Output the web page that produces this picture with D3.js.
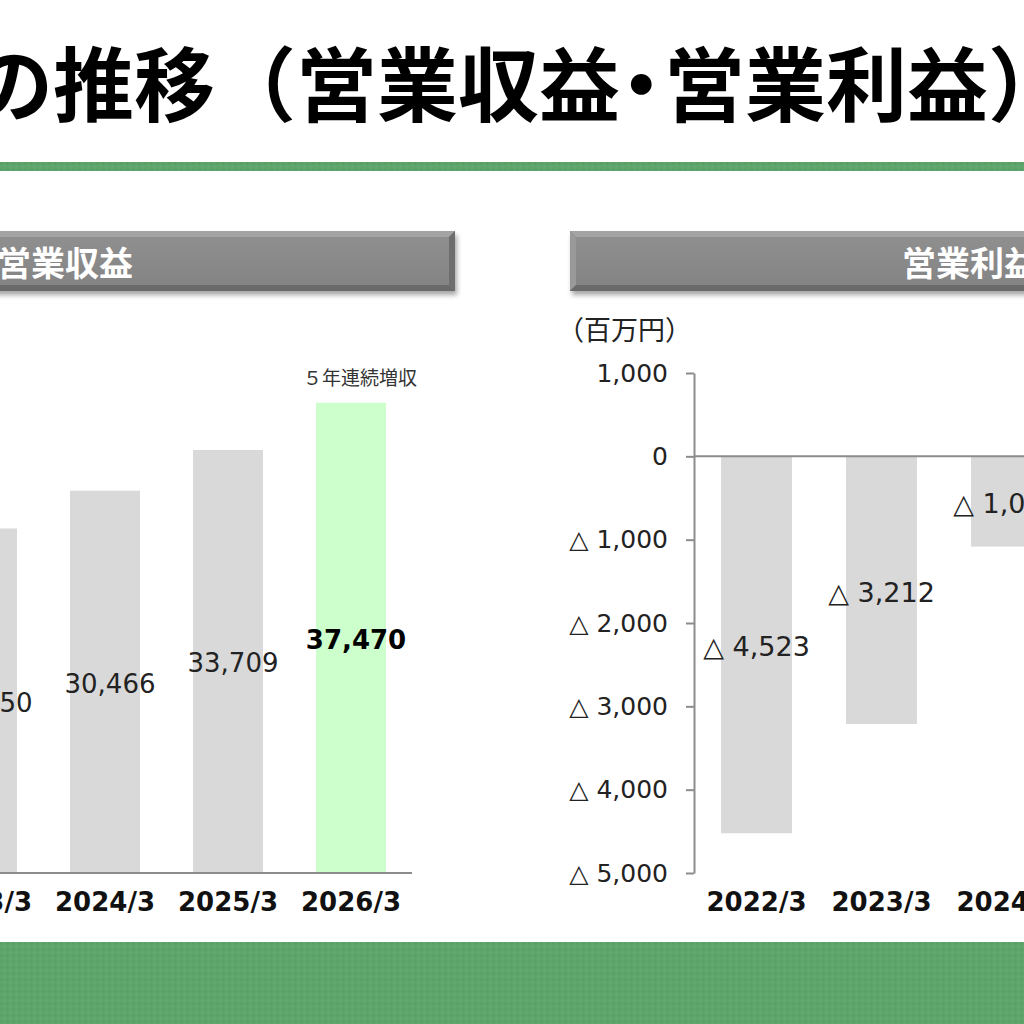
<!DOCTYPE html>
<html>
<head>
<meta charset="utf-8">
<title>営業収益・営業利益の推移</title>
<script src="https://d3js.org/d3.v7.min.js"></script>
<style>
  html, body { margin: 0; padding: 0; background: #fff; }
  svg { display: block; }
  .halt { font-feature-settings: "halt"; }
</style>
</head>
<body>
<svg id="mainsvg" width="1024" height="1024"></svg>
<script>
// ---------- data ----------
const revenueYears = ["2023/3", "2024/3", "2025/3", "2026/3"];
const revenueValues = [27450, 30466, 33709, 37470];   // 百万円 (first bar partly off the slide)
const revenueHighlight = "2026/3";
const revenueNote = "５年連続増収";

const profitYears = ["2022/3", "2023/3", "2024/3"];
const profitValues = [-4523, -3212, -1083];           // 百万円 (last label cut off)
const profitTicks = [1000, 0, -1000, -2000, -3000, -4000, -5000];

const titleParts = ["の推移（営業収益", "・", "営業利益）"];
const leftHeader = "営業収益";
const rightHeader = "営業利益";
const unitLabel = "（百万円）";

// ---------- setup ----------
const svg = d3.select("#mainsvg");
const jp = "'Noto Sans CJK JP', 'Noto Sans', sans-serif";
const num = "'DejaVu Sans', Verdana, sans-serif";
const barGray = "#d9d9d9";
const axisGray = "#8c8c8c";

const defs = svg.append("defs");
// dotted green texture
const pat = defs.append("pattern").attr("id", "greenTex")
  .attr("width", 6).attr("height", 6).attr("patternUnits", "userSpaceOnUse");
pat.append("rect").attr("width", 6).attr("height", 6).attr("fill", "#5ea56c");
pat.append("circle").attr("cx", 1.5).attr("cy", 1.5).attr("r", 1).attr("fill", "#55995f");
pat.append("circle").attr("cx", 4.5).attr("cy", 4.5).attr("r", 1).attr("fill", "#66ad74");

const shadow = defs.append("filter").attr("id", "shadow")
  .attr("x", "-10%").attr("y", "-30%").attr("width", "120%").attr("height", "170%");
shadow.append("feGaussianBlur").attr("stdDeviation", 2.5);

const faceGrad = defs.append("linearGradient").attr("id", "faceGrad")
  .attr("x1", 0).attr("y1", 0).attr("x2", 0).attr("y2", 1);
faceGrad.append("stop").attr("offset", "0%").attr("stop-color", "#8f8f8f");
faceGrad.append("stop").attr("offset", "100%").attr("stop-color", "#848484");

// ---------- title and bands ----------
const title = svg.append("text")
  .attr("y", 115)
  .attr("font-family", jp).attr("font-weight", 700).attr("font-size", 81)
  .attr("fill", "#000");
title.append("tspan").attr("x", -28).text(titleParts[0]);
title.append("tspan").attr("class", "halt").attr("x", 621).text(titleParts[1]);
title.append("tspan").attr("x", 664).text(titleParts[2]);

svg.append("rect").attr("x", 0).attr("y", 162).attr("width", 1024).attr("height", 9)
  .attr("fill", "url(#greenTex)");
svg.append("rect").attr("x", 0).attr("y", 942).attr("width", 1024).attr("height", 82)
  .attr("fill", "url(#greenTex)");

// ---------- section header bars ----------
function headerBar(x0, x1, label, tx) {
  const y0 = 231, y1 = 291, b = 6;
  const g = svg.append("g");
  g.append("rect").attr("x", x0 + 2).attr("y", y0 + 4).attr("width", x1 - x0).attr("height", y1 - y0)
    .attr("fill", "#000").attr("opacity", 0.35).attr("filter", "url(#shadow)");
  g.append("rect").attr("x", x0).attr("y", y0).attr("width", x1 - x0).attr("height", y1 - y0)
    .attr("fill", "#7c7c7c");
  // top bevel
  g.append("polygon").attr("points", `${x0},${y0} ${x1},${y0} ${x1 - b},${y0 + b} ${x0 + b},${y0 + b}`)
    .attr("fill", "#a4a4a4");
  // left bevel
  g.append("polygon").attr("points", `${x0},${y0} ${x0 + b},${y0 + b} ${x0 + b},${y1 - b} ${x0},${y1}`)
    .attr("fill", "#999");
  // right bevel
  g.append("polygon").attr("points", `${x1},${y0} ${x1},${y1} ${x1 - b},${y1 - b} ${x1 - b},${y0 + b}`)
    .attr("fill", "#6e6e6e");
  // bottom bevel
  g.append("polygon").attr("points", `${x0},${y1} ${x0 + b},${y1 - b} ${x1 - b},${y1 - b} ${x1},${y1}`)
    .attr("fill", "#6a6a6a");
  g.append("rect").attr("x", x0 + b).attr("y", y0 + b).attr("width", x1 - x0 - 2 * b).attr("height", y1 - y0 - 2 * b)
    .attr("fill", "url(#faceGrad)");
  g.append("text").attr("x", tx).attr("y", 276)
    .attr("font-family", jp).attr("font-weight", 700).attr("font-size", 34)
    .attr("fill", "#fff").text(label);
}
headerBar(-330, 455, leftHeader, -3);
headerBar(570, 1350, rightHeader, 902);

// ---------- left chart: 営業収益 ----------
const baseY = 873;
const xL = d3.scaleBand().domain(revenueYears).range([-79.5, 412.5])
  .paddingInner(0.431).paddingOuter(0.2155);
const yL = d3.scaleLinear().domain([0, 40000]).range([baseY, 371]);
const fmt = d3.format(",");

const left = svg.append("g");
left.selectAll("rect.bar").data(revenueYears).join("rect")
  .attr("class", "bar")
  .attr("x", d => xL(d))
  .attr("width", xL.bandwidth())
  .attr("y", (d, i) => yL(revenueValues[i]))
  .attr("height", (d, i) => yL(0) - yL(revenueValues[i]))
  .attr("fill", d => d === revenueHighlight ? "#ccffcc" : barGray);

left.selectAll("text.val").data(revenueYears).join("text")
  .attr("class", "val")
  .attr("x", d => xL(d) + xL.bandwidth() / 2 + 5)
  .attr("y", (d, i) => (yL(0) + yL(revenueValues[i])) / 2)
  .attr("dy", "0.42em")
  .attr("text-anchor", "middle")
  .attr("font-family", num).attr("font-size", 26)
  .attr("font-weight", d => d === revenueHighlight ? 700 : 400)
  .attr("fill", d => d === revenueHighlight ? "#000" : "#222")
  .text((d, i) => fmt(revenueValues[i]));

left.append("text")
  .attr("x", xL(revenueHighlight) + xL.bandwidth() / 2 + 9)
  .attr("y", yL(revenueValues[revenueValues.length - 1]) - 18)
  .attr("text-anchor", "middle")
  .attr("font-family", jp).attr("font-size", 19).attr("fill", "#333")
  .text(revenueNote);

const xAxisL = left.append("g").attr("transform", `translate(0,${baseY})`)
  .call(d3.axisBottom(xL).tickSize(0).tickPadding(20));
xAxisL.select(".domain").attr("stroke", axisGray).attr("stroke-width", 2)
  .attr("d", "M-100,0H412");
xAxisL.selectAll("text").attr("font-family", num).attr("font-weight", 700)
  .attr("font-size", 26).attr("fill", "#111");

// ---------- right chart: 営業利益 ----------
const axisX = 694;
const xR = d3.scaleBand().domain(profitYears).range([axisX, axisX + 375])
  .paddingInner(0.432).paddingOuter(0.216);
const yR = d3.scaleLinear().domain([-5000, 1000]).range([baseY, 373]);
const tickFmt = v => v < 0 ? "△ " + fmt(-v) : fmt(v);

const right = svg.append("g");
right.selectAll("rect.bar").data(profitYears).join("rect")
  .attr("class", "bar")
  .attr("x", d => xR(d))
  .attr("width", xR.bandwidth())
  .attr("y", (d, i) => yR(Math.max(0, profitValues[i])))
  .attr("height", (d, i) => Math.abs(yR(profitValues[i]) - yR(0)))
  .attr("fill", barGray);

right.selectAll("text.val").data(profitYears).join("text")
  .attr("class", "val")
  .attr("x", d => xR(d) + xR.bandwidth() / 2)
  .attr("y", (d, i) => (yR(0) + yR(profitValues[i])) / 2)
  .attr("dy", "0.42em")
  .attr("text-anchor", "middle")
  .attr("font-family", num).attr("font-size", 27).attr("fill", "#222")
  .text((d, i) => tickFmt(profitValues[i]));

const yAxisR = right.append("g").attr("transform", `translate(${axisX},0)`)
  .call(d3.axisLeft(yR).tickValues(profitTicks).tickFormat(tickFmt)
    .tickSize(8).tickSizeOuter(0).tickPadding(18));
yAxisR.select(".domain").attr("stroke", axisGray).attr("stroke-width", 2);
yAxisR.selectAll(".tick line").attr("stroke", axisGray).attr("stroke-width", 2);
yAxisR.selectAll("text").attr("font-family", num).attr("font-size", 25).attr("fill", "#222");

// zero line
right.append("line")
  .attr("x1", axisX).attr("x2", 1024)
  .attr("y1", yR(0)).attr("y2", yR(0))
  .attr("stroke", axisGray).attr("stroke-width", 2);

const xAxisR = right.append("g").attr("transform", `translate(0,${baseY})`)
  .call(d3.axisBottom(xR).tickSize(0).tickPadding(20));
xAxisR.select(".domain").remove();
xAxisR.selectAll("text").attr("font-family", num).attr("font-weight", 700)
  .attr("font-size", 26).attr("fill", "#111");

right.append("text").attr("x", 557).attr("y", 340)
  .attr("font-family", jp).attr("font-size", 27).attr("fill", "#222")
  .text(unitLabel);
</script>
</body>
</html>
